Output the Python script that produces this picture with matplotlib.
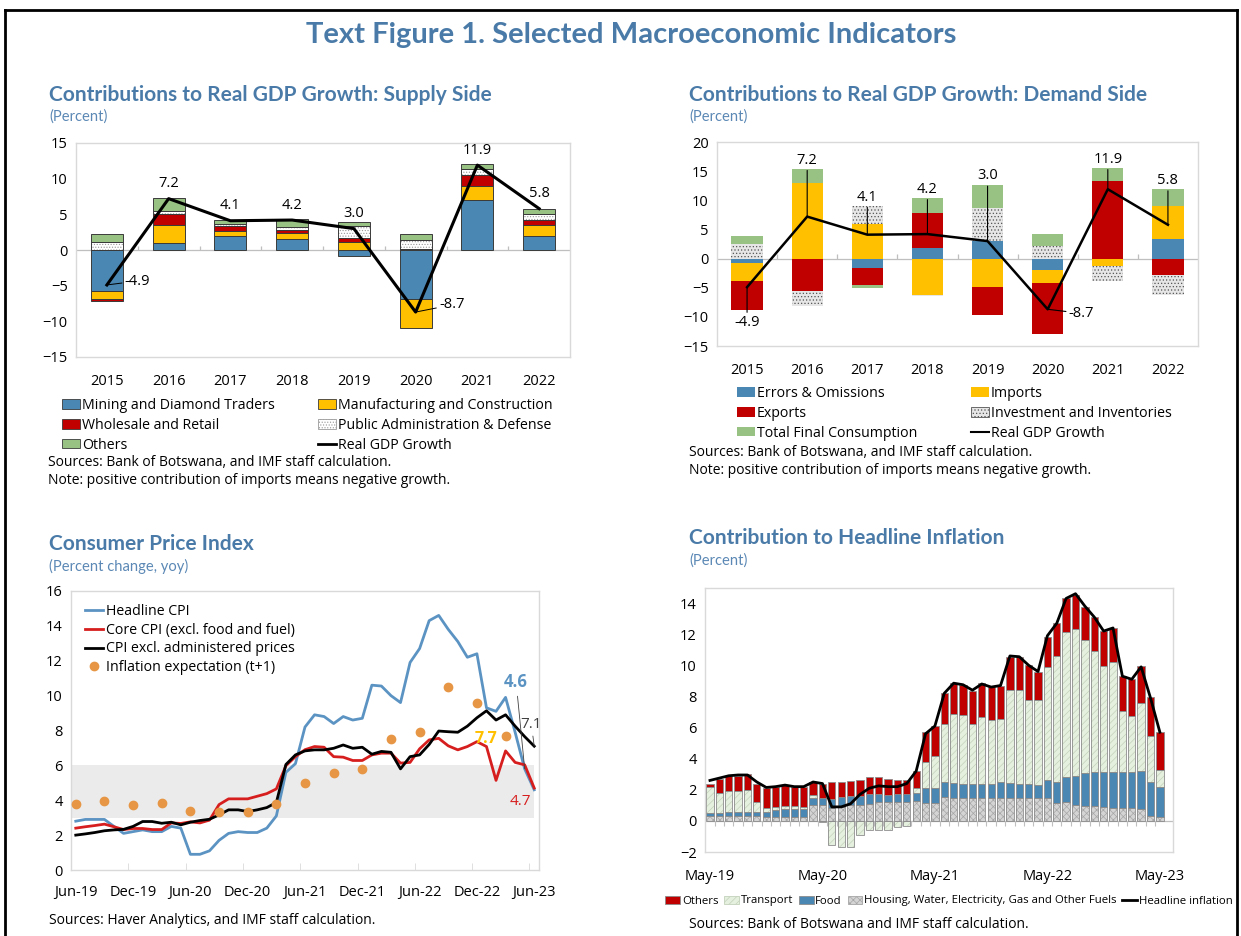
import matplotlib
matplotlib.use('Agg')
import matplotlib.pyplot as plt
from matplotlib.patches import Patch
from matplotlib.lines import Line2D
import numpy as np

plt.rcParams['font.family'] = ['Open Sans', 'DejaVu Sans']
plt.rcParams['hatch.linewidth'] = 0.5

# ---------------- data ----------------
years = ['2015', '2016', '2017', '2018', '2019', '2020', '2021', '2022']
gdp_growth = [-4.9, 7.2, 4.1, 4.2, 3.0, -8.7, 11.9, 5.8]

# supply side contributions
sup_mining = [-5.8, 1.0, 2.0, 1.55, -0.85, -6.8, 7.0, 2.0]
sup_manuf = [-1.1, 2.5, 0.6, 0.8, 1.1, -4.1, 2.0, 1.5]
sup_wholesale = [-0.2, 1.6, 0.8, 0.5, 0.65, 0.2, 1.5, 0.65]
sup_public = [1.1, 0.4, 0.3, 0.35, 1.6, 1.15, 0.8, 0.85]
sup_others = [1.2, 1.8, 0.5, 1.1, 0.55, 0.85, 0.75, 0.8]

# demand side contributions
dem_errors = [-0.7, 0.0, -1.6, 1.85, 3.05, -1.95, 0.0, 3.3]
dem_imports = [-3.2, 13.0, 5.9, -6.3, -4.95, -2.3, -1.3, 5.7]
dem_exports = [-4.9, -5.5, -3.0, 5.9, -4.75, -8.7, 13.3, -2.8]
dem_invest = [2.55, -2.7, 3.15, -0.1, 5.7, 2.1, -2.55, -3.4]
dem_tfc = [1.25, 2.4, -0.4, 2.65, 3.95, 2.05, 2.25, 2.9]

# CPI, monthly Jun-19 .. Jun-23
cpi_tick_labels = ['Jun-19', 'Dec-19', 'Jun-20', 'Dec-20', 'Jun-21', 'Dec-21', 'Jun-22', 'Dec-22', 'Jun-23']
headline_cpi = [2.8, 2.9, 2.9, 2.9, 2.5, 2.1, 2.2, 2.3, 2.2, 2.2, 2.5, 2.4,
                0.9, 0.9, 1.1, 1.7, 2.1, 2.2, 2.15, 2.15, 2.4, 3.1, 5.6, 6.1,
                8.2, 8.9, 8.8, 8.4, 8.8, 8.6, 8.7, 10.6, 10.55, 10.0, 9.6, 11.9,
                12.7, 14.3, 14.6, 13.8, 13.1, 12.2, 12.4, 9.3, 9.1, 9.9, 7.9, 5.8, 4.6]
core_cpi = [2.4, 2.48, 2.55, 2.63, 2.48, 2.32, 2.38, 2.38, 2.32, 2.32, 2.7, 2.67,
            2.76, 2.7, 2.86, 3.75, 4.08, 4.08, 4.08, 4.23, 4.38, 4.65, 5.98, 6.5,
            6.9, 7.08, 7.04, 6.5, 6.47, 6.28, 6.28, 6.6, 6.7, 6.7, 6.13, 6.17,
            6.95, 7.46, 7.55, 7.12, 6.89, 7.08, 7.36, 7.08, 5.14, 6.83, 6.17, 6.03, 4.7]
cpi_excl_admin = [2.0, 2.07, 2.15, 2.25, 2.3, 2.33, 2.5, 2.78, 2.78, 2.68, 2.74, 2.59,
                  2.74, 2.84, 2.91, 3.16, 3.45, 3.45, 3.35, 3.45, 3.58, 3.87, 6.05, 6.6,
                  6.83, 6.89, 6.89, 6.98, 7.17, 6.98, 7.04, 6.64, 6.8, 6.75, 5.8, 6.5,
                  6.6, 7.2, 7.97, 7.93, 7.9, 8.25, 8.73, 9.13, 8.6, 8.9, 8.25, 7.65, 7.1]
expect_month_idx = [0, 3, 6, 9, 12, 15, 18, 21, 24, 27, 30, 33, 36, 39, 42, 45]
inflation_expect = [3.8, 3.95, 3.7, 3.85, 3.4, 3.3, 3.3, 3.8, 5.0, 5.55, 5.8, 7.5, 7.9, 10.5, 9.55, 7.7]
target_low, target_high = 3.0, 6.0

# contributions to headline inflation, monthly May-19 .. May-23
infl_tick_labels = ['May-19', 'May-20', 'May-21', 'May-22', 'May-23']
contrib_housing = [0.30, 0.30, 0.30, 0.30, 0.30, 0.30, 0.25, 0.25, 0.25, 0.25, 0.25, 1.05,
                   1.05, 0.85, 0.90, 1.05, 1.05, 1.10, 1.20, 1.20, 1.20, 1.20, 1.25, 1.15,
                   1.15, 1.55, 1.50, 1.45, 1.45, 1.45, 1.45, 1.50, 1.45, 1.45, 1.45, 1.45,
                   1.45, 1.15, 1.20, 1.05, 0.95, 0.95, 0.90, 0.85, 0.80, 0.80, 0.75, 0.30, 0.25]
contrib_food = [0.20, 0.20, 0.25, 0.30, 0.30, 0.30, 0.30, 0.45, 0.50, 0.50, 0.50, 0.45,
                0.40, 0.55, 0.65, 0.55, 0.55, 0.60, 0.55, 0.45, 0.50, 0.50, 0.55, 0.95,
                0.95, 0.95, 0.95, 0.95, 0.95, 0.95, 0.95, 1.00, 1.00, 0.95, 0.95, 0.85,
                1.15, 1.35, 1.60, 1.85, 2.10, 2.20, 2.25, 2.30, 2.35, 2.35, 2.45, 2.20, 1.95]
contrib_transport = [1.65, 1.30, 1.35, 1.35, 1.40, 0.60, 0.30, 0.20, 0.20, 0.20, 0.15, 0.15,
                     -0.05, -1.55, -1.65, -1.65, -0.90, -0.60, -0.60, -0.60, -0.40, -0.35, 0.30, 1.70,
                     2.05, 3.70, 4.45, 4.40, 3.80, 4.30, 4.10, 4.05, 5.95, 6.00, 5.35, 5.45,
                     7.30, 8.10, 9.35, 9.45, 8.60, 7.80, 6.80, 7.05, 3.90, 3.60, 4.35, 2.95, 1.10]
contrib_others = [0.25, 0.90, 1.00, 0.95, 1.00, 1.20, 1.25, 1.30, 1.35, 1.25, 1.30, 0.85,
                  0.95, 1.10, 0.95, 0.95, 1.05, 1.10, 1.05, 1.05, 0.90, 0.95, 1.10, 1.90,
                  1.95, 2.00, 1.95, 1.95, 2.15, 2.15, 2.10, 2.15, 2.15, 2.15, 2.25, 1.85,
                  1.95, 2.10, 2.15, 2.20, 2.10, 2.15, 2.25, 2.20, 2.25, 2.35, 2.40, 2.50, 2.40]
headline_infl = [2.6, 2.75, 2.9, 2.95, 2.95, 2.5, 2.15, 2.2, 2.3, 2.2, 2.2, 2.5,
                 2.4, 0.9, 0.9, 1.1, 1.7, 2.1, 2.25, 2.2, 2.2, 2.4, 3.2, 5.6,
                 6.1, 8.2, 8.85, 8.75, 8.4, 8.8, 8.6, 8.7, 10.6, 10.55, 10.0, 9.6,
                 11.9, 12.7, 14.3, 14.6, 13.8, 13.1, 12.2, 12.4, 9.3, 9.1, 9.9, 7.9, 5.7]

# ---------------- styling ----------------
W, H = 1241, 936
fig = plt.figure(figsize=(W / 100, H / 100), dpi=100)
TITLE_BLUE = '#4A7BA8'
SUB_BLUE = '#5B88B5'
BLUE = '#4A87B3'
RED = '#C00000'
YELLOW = '#FFC000'
GREEN = '#97C283'
FRAME = '#D9D9D9'
TFONT = ['Lato', 'DejaVu Sans']


def ax_px(l, t, r, b):
    return fig.add_axes([l / W, 1 - b / H, (r - l) / W, (b - t) / H])


def ftext(x, y, s, **kw):
    return fig.text(x / W, 1 - y / H, s, **kw)


def fy(y):
    return 1 - y / H


def draw_bar(ax, x, h, b, w, st):
    if st.get('hatch'):
        ax.bar(x, h, w, bottom=b, color=st['fc'], edgecolor=st['hc'], linewidth=0,
               hatch=st['hatch'], zorder=2)
        ax.bar(x, h, w, bottom=b, fill=False, edgecolor=st['ec'], linewidth=st['lw'], zorder=2.1)
    else:
        ax.bar(x, h, w, bottom=b, color=st['fc'], edgecolor=st['ec'], linewidth=st['lw'], zorder=2)


def stacked(ax, x, series, styles, width):
    pos = np.zeros(len(x))
    neg = np.zeros(len(x))
    for vals, st in zip(series, styles):
        v = np.asarray(vals, float)
        base = np.where(v >= 0, pos, neg)
        draw_bar(ax, x, v, base, width, st)
        pos = pos + np.where(v >= 0, v, 0)
        neg = neg + np.where(v < 0, v, 0)
    return pos, neg


def frame(ax):
    for s in ax.spines.values():
        s.set_color(FRAME)
        s.set_linewidth(1.0)


def patch_handle(st):
    if st.get('hatch'):
        return Patch(facecolor=st['fc'], edgecolor=st['hc'], hatch=st['hatch'], linewidth=0.6)
    return Patch(facecolor=st['fc'], edgecolor=st['ec'], linewidth=0.6)


# ---------------- figure title & border ----------------
ftext(631, 35, 'Text Figure 1. Selected Macroeconomic Indicators', ha='center', va='center',
      fontsize=21, fontweight='bold', color=TITLE_BLUE, family=TFONT)
fig.add_artist(Line2D([5 / W, 1237 / W], [fy(10), fy(10)], color='black', lw=2))
fig.add_artist(Line2D([5 / W, 5 / W], [fy(10), 0], color='black', lw=2))
fig.add_artist(Line2D([1237 / W, 1237 / W], [fy(10), 0], color='black', lw=2))

TITLE_SIZE = 15
SUB_SIZE = 10.6

# ---------------- panel 1: supply ----------------
ax1 = ax_px(76, 143, 570, 357)
x = np.arange(len(years))
sup_styles = [
    dict(fc=BLUE, ec='#3A3A3A', lw=0.7),
    dict(fc=YELLOW, ec='#3A3A3A', lw=0.7),
    dict(fc=RED, ec='#3A3A3A', lw=0.7),
    dict(fc='white', ec='#3A3A3A', lw=0.7, hatch='......', hc='#9A9A9A'),
    dict(fc=GREEN, ec='#3A3A3A', lw=0.7),
]
stacked(ax1, x, [sup_mining, sup_manuf, sup_wholesale, sup_public, sup_others], sup_styles, 0.52)
ax1.plot(x, gdp_growth, color='black', lw=2.2, zorder=4)
ax1.axhline(0, color='#BFBFBF', lw=0.9, zorder=1)
ax1.vlines(x[:-1] + 0.5, 0, 0.6, color='#BFBFBF', lw=0.9, zorder=1)
ax1.set_xlim(-0.5, len(years) - 0.5)
ax1.set_ylim(-15, 15)
ax1.set_yticks(np.arange(-15, 16, 5))
ax1.set_xticks(x)
ax1.set_xticklabels(years)
ax1.tick_params(axis='both', length=0, labelsize=10.5, pad=6)
ax1.tick_params(axis='x', pad=12)
frame(ax1)
for i, v in enumerate(gdp_growth):
    if i == 0:
        ax1.annotate(f'{v:.1f}', xy=(i, v), xytext=(i + 0.29, v + 0.55), ha='left', va='center',
                     fontsize=10.5, arrowprops=dict(arrowstyle='-', lw=0.7, color='black',
                                                    shrinkA=0, shrinkB=0))
    elif i == 5:
        ax1.annotate(f'{v:.1f}', xy=(i, v), xytext=(i + 0.38, v + 1.0), ha='left', va='center',
                     fontsize=10.5, arrowprops=dict(arrowstyle='-', lw=0.7, color='black',
                                                    shrinkA=0, shrinkB=0))
    else:
        ax1.annotate(f'{v:.1f}', xy=(i, v), xytext=(0, 15), textcoords='offset pixels',
                     ha='center', va='center', fontsize=10.5)

ftext(49, 95, 'Contributions to Real GDP Growth: Supply Side', ha='left', va='center',
      fontsize=TITLE_SIZE, fontweight='bold', color=TITLE_BLUE, family=TFONT)
ftext(49, 117, '(Percent)', ha='left', va='center', fontsize=SUB_SIZE, color=SUB_BLUE, family=TFONT)

sup_names = ['Mining and Diamond Traders', 'Manufacturing and Construction', 'Wholesale and Retail',
             'Public Administration & Defense', 'Others']
gdp_handle = Line2D([], [], color='black', lw=2)
col1 = [patch_handle(sup_styles[0]), patch_handle(sup_styles[2]), patch_handle(sup_styles[4])]
col2 = [patch_handle(sup_styles[1]), patch_handle(sup_styles[3]), gdp_handle]
leg_kw = dict(frameon=False, fontsize=10.2, handlelength=1.25, handleheight=0.65, handletextpad=0.15,
              labelspacing=0.34, borderpad=0, borderaxespad=0, loc='upper left')
fig.legend(col1, [sup_names[0], sup_names[2], sup_names[4]],
           bbox_to_anchor=(62 / W, fy(398)), **leg_kw)
fig.legend(col2, [sup_names[1], sup_names[3], 'Real GDP Growth'],
           bbox_to_anchor=(318 / W, fy(398)), **leg_kw)
ftext(48, 462, 'Sources: Bank of Botswana, and IMF staff calculation.', ha='left', va='center',
      fontsize=10)
ftext(48, 481, 'Note: positive contribution of imports means negative growth.', ha='left',
      va='center', fontsize=10)

# ---------------- panel 2: demand ----------------
ax2 = ax_px(717, 142, 1198, 346)
dem_styles = [
    dict(fc=BLUE, ec='none', lw=0),
    dict(fc=YELLOW, ec='none', lw=0),
    dict(fc=RED, ec='none', lw=0),
    dict(fc='#E6E6E6', ec='none', lw=0, hatch='.....', hc='#555555'),
    dict(fc=GREEN, ec='none', lw=0),
]
pos2, neg2 = stacked(ax2, x, [dem_errors, dem_imports, dem_exports, dem_invest, dem_tfc],
                     dem_styles, 0.52)
ax2.plot(x, gdp_growth, color='black', lw=1.8, zorder=4)
ax2.axhline(0, color='#BFBFBF', lw=0.9, zorder=1)
ax2.vlines(x[:-1] + 0.5, 0, 0.7, color='#BFBFBF', lw=0.9, zorder=1)
ax2.set_xlim(-0.5, len(years) - 0.5)
ax2.set_ylim(-15, 20)
ax2.set_yticks(np.arange(-15, 21, 5))
ax2.set_xticks(x)
ax2.set_xticklabels(years)
ax2.tick_params(axis='both', length=0, labelsize=10.5, pad=6)
ax2.tick_params(axis='x', pad=12)
frame(ax2)
arrow_kw = dict(arrowstyle='-', lw=0.8, color='black', shrinkA=0, shrinkB=0)
for i, v in enumerate(gdp_growth):
    if i == 0:
        ax2.annotate(f'{v:.1f}', xy=(i, v), xytext=(i, neg2[i] - 0.9), ha='center', va='top',
                     fontsize=10.5, arrowprops=arrow_kw)
    elif i == 5:
        ax2.annotate(f'{v:.1f}', xy=(i, v), xytext=(i + 0.35, v - 0.7), ha='left', va='center',
                     fontsize=10.5, arrowprops=arrow_kw)
    else:
        ax2.annotate(f'{v:.1f}', xy=(i, v), xytext=(i, pos2[i] + 0.2), ha='center', va='bottom',
                     fontsize=10.5, arrowprops=arrow_kw)

ftext(689, 95, 'Contributions to Real GDP Growth: Demand Side', ha='left', va='center',
      fontsize=TITLE_SIZE, fontweight='bold', color=TITLE_BLUE, family=TFONT)
ftext(689, 117, '(Percent)', ha='left', va='center', fontsize=SUB_SIZE, color=SUB_BLUE, family=TFONT)
dcol1 = [patch_handle(dem_styles[0]), patch_handle(dem_styles[2]), patch_handle(dem_styles[4])]
dcol2 = [patch_handle(dem_styles[1]), patch_handle(dem_styles[3]), Line2D([], [], color='black', lw=1.5)]
fig.legend(dcol1, ['Errors & Omissions', 'Exports', 'Total Final Consumption'],
           bbox_to_anchor=(737 / W, fy(386)), **leg_kw)
fig.legend(dcol2, ['Imports', 'Investment and Inventories', 'Real GDP Growth'],
           bbox_to_anchor=(971 / W, fy(386)), **leg_kw)
ftext(689, 452, 'Sources: Bank of Botswana, and IMF staff calculation.', ha='left', va='center',
      fontsize=10)
ftext(689, 471, 'Note: positive contribution of imports means negative growth.', ha='left',
      va='center', fontsize=10)

# ---------------- panel 3: CPI ----------------
ax3 = ax_px(71, 591, 539, 870)
m = np.arange(len(headline_cpi))
ax3.fill_between([-0.5, m[-1]], target_low, target_high, color='#EBEBEB', lw=0, zorder=0)
ax3.plot(m, headline_cpi, color='#5B93C3', lw=2.0, zorder=3, label='Headline CPI')
ax3.plot(m, core_cpi, color='#D71E1E', lw=2.0, zorder=3, label='Core CPI (excl. food and fuel)')
ax3.plot(m, cpi_excl_admin, color='black', lw=2.0, zorder=3, label='CPI excl. administered prices')
ax3.plot(expect_month_idx, inflation_expect, 'o', color='#E69644', ms=6, zorder=4, lw=0,
         label='Inflation expectation (t+1)')
ax3.set_xlim(-0.5, len(m) - 0.5)
ax3.set_ylim(0, 16)
ax3.set_yticks(np.arange(0, 17, 2))
ax3.set_xticks(np.arange(0, len(m), 6))
ax3.set_xticklabels(cpi_tick_labels)
ax3.set_xticks(np.arange(5.5, len(m), 6), minor=True)
ax3.tick_params(axis='both', which='major', length=0, labelsize=10.5, pad=6)
ax3.tick_params(axis='x', which='major', pad=11)
ax3.tick_params(axis='x', which='minor', length=5, direction='in', color=FRAME)
frame(ax3)
ax3.legend(loc='upper left', bbox_to_anchor=(0.03, 0.955), frameon=False, fontsize=10.2,
           handlelength=1.3, handletextpad=0.15, labelspacing=0.28, borderpad=0, borderaxespad=0)
last = len(m) - 1
ax3.annotate('4.6', xy=(last - 1, headline_cpi[last - 1]), xytext=(last - 1.9, 10.8),
             ha='center', va='center', fontsize=12, fontweight='bold', color='#5B93C3',
             arrowprops=dict(arrowstyle='-', lw=0.6, color='#404040', shrinkA=2, shrinkB=0))
ax3.annotate('7.1', xy=(last, cpi_excl_admin[last]), xytext=(last - 0.3, 8.35),
             ha='center', va='center', fontsize=11, color='#404040',
             arrowprops=dict(arrowstyle='-', lw=0.6, color='#404040', shrinkA=1, shrinkB=0))
ax3.annotate('7.7', xy=(expect_month_idx[-1], inflation_expect[-1]), xytext=(43.0, 7.5),
             ha='center', va='center', fontsize=11.5, fontweight='bold', color=YELLOW,
             arrowprops=dict(arrowstyle='-', lw=0.8, color='#404040', shrinkA=2, shrinkB=4))
ax3.text(46.5, 3.9, '4.7', ha='center', va='center', fontsize=11, color='#D71E1E')

ftext(49, 544, 'Consumer Price Index', ha='left', va='center', fontsize=TITLE_SIZE, fontweight='bold',
      color=TITLE_BLUE, family=TFONT)
ftext(49, 566, '(Percent change, yoy)', ha='left', va='center', fontsize=SUB_SIZE, color=SUB_BLUE,
      family=TFONT)
ftext(49, 920, 'Sources: Haver Analytics, and IMF staff calculation.', ha='left', va='center',
      fontsize=10)

# ---------------- panel 4: contribution to headline inflation ----------------
ax4 = ax_px(705, 587.5, 1173, 852)
j = np.arange(len(headline_infl))
inf_styles = [
    dict(fc='#D4D4D4', ec='#8C8C8C', lw=0.6, hatch='xxxxx', hc='#A6A6A6'),
    dict(fc=BLUE, ec='#8C8C8C', lw=0.6),
    dict(fc='#E6F0DE', ec='#8C8C8C', lw=0.6, hatch='/////', hc='#C3D1BA'),
    dict(fc=RED, ec='#8C8C8C', lw=0.6),
]
stacked(ax4, j, [contrib_housing, contrib_food, contrib_transport, contrib_others], inf_styles, 0.78)
ax4.plot(j, headline_infl, color='black', lw=2.0, zorder=5)
ax4.axhline(0, color='#BFBFBF', lw=0.9, zorder=1)
ax4.vlines(j[:-1] + 0.5, -0.35, 0, color='#BFBFBF', lw=0.8, zorder=1)
ax4.set_xlim(-0.53, 49.4)
ax4.set_ylim(-2, 15)
ax4.set_yticks(np.arange(-2, 15, 2))
ax4.set_xticks(np.arange(0, len(j), 12))
ax4.set_xticklabels(infl_tick_labels)
ax4.tick_params(axis='both', length=0, labelsize=10.5, pad=6)
ax4.tick_params(axis='x', pad=12)
frame(ax4)

ftext(689, 538, 'Contribution to Headline Inflation', ha='left', va='center', fontsize=TITLE_SIZE,
      fontweight='bold', color=TITLE_BLUE, family=TFONT)
ftext(689, 561, '(Percent)', ha='left', va='center', fontsize=SUB_SIZE, color=SUB_BLUE, family=TFONT)
inf_handles = [patch_handle(inf_styles[3]), patch_handle(inf_styles[2]), patch_handle(inf_styles[1]),
               patch_handle(inf_styles[0]), Line2D([], [], color='black', lw=2)]
inf_labels = ['Others', 'Transport', 'Food', 'Housing, Water, Electricity, Gas and Other Fuels',
              'Headline inflation']
fig.legend(inf_handles, inf_labels, loc='center', bbox_to_anchor=(949 / W, fy(901)), ncol=5,
           frameon=False, fontsize=8.2, handlelength=1.3, handleheight=0.7, handletextpad=0.15,
           columnspacing=0.5, borderpad=0, borderaxespad=0)
ftext(689, 925, 'Sources: Bank of Botswana and IMF staff calculation.', ha='left', va='center',
      fontsize=10)

fig.savefig('out.png', dpi=100)
